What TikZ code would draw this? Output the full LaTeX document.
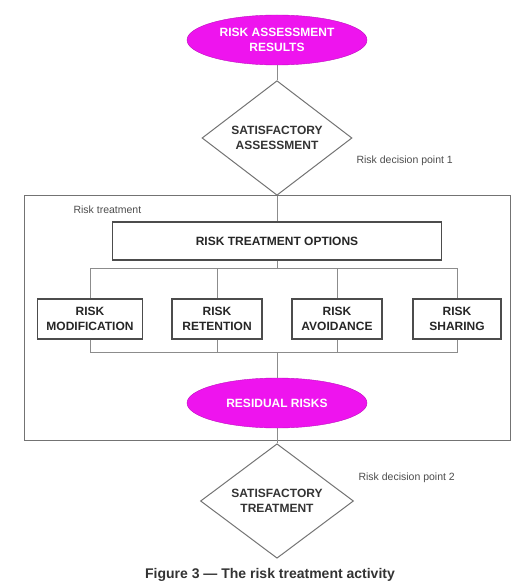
\documentclass[tikz,border=0pt]{standalone}
\usepackage{fontspec}
\setmainfont{Liberation Sans}
\usepackage{xcolor}
\usepackage{tikz}
\usetikzlibrary{positioning}
\usetikzlibrary{shapes.geometric}
\definecolor{riskpink}{RGB}{238,20,238}
\definecolor{riskline}{RGB}{140,140,140}
\newcommand{\boxfont}{\fontsize{12}{15}\selectfont\bfseries}
\newcommand{\notefont}{\fontsize{10.5}{12}\selectfont}
\tikzset{
	flowline/.style={draw=riskline, line width=0.9pt},
	pinkcap/.style={ellipse, fill=riskpink, draw=riskpink!80!black,
			minimum width=180pt, minimum height=50pt, inner sep=0pt,
			align=center, text=white, font=\boxfont},
	decide/.style={diamond, draw=black!55, line width=1pt, inner sep=0pt,
			align=center, text=black!80, font=\boxfont},
	optbox/.style={rectangle, draw=black!70, line width=1.3pt,
			minimum height=40pt, inner sep=2pt,
			align=center, text=black!85, font=\boxfont}
}

\begin{document}
\begin{tikzpicture}[x=1pt, y=-1pt]
		\useasboundingbox (0,0) rectangle (516,588);

		% Assessment results
		\node[pinkcap] (results) at (277,40) {RISK ASSESSMENT\\RESULTS};

		% Decision point 1
		\node[decide,
			minimum width=150pt,
			minimum height=100pt
		] (satassess) at (277,138) {SATISFACTORY\\ASSESSMENT};
		\node[anchor=west, text=black!70, font=\notefont] (point1) at (353,161) {Risk decision point 1};

		% Treatment frame
		\node[draw=black!55,
			line width=1pt,
			minimum width=486pt,
			minimum height=245pt,
			inner sep=0pt
		] (frame) at (267,317.5) {};
		\node[anchor=west, text=black!70, font=\notefont] (frametitle) at (70,210) {Risk treatment};

		% Options
		\node[optbox,
			minimum width=329pt,
			minimum height=38pt
		] (options) at (277,241) {RISK TREATMENT OPTIONS};

		\node[optbox, minimum width=105pt] (modify) at (90,319) {RISK\\MODIFICATION};
		\node[optbox, minimum width=90pt] (retain) at (217,319) {RISK\\RETENTION};
		\node[optbox, minimum width=90pt] (avoid) at (337,319) {RISK\\AVOIDANCE};
		\node[optbox, minimum width=88pt] (share) at (457,319) {RISK\\SHARING};

		% Residual risks
		\node[pinkcap] (residual) at (277,403) {RESIDUAL RISKS};

		% Decision point 2
		\node[decide,
			minimum width=153pt,
			minimum height=93pt
		] (sattreat) at (277,501) {SATISFACTORY\\TREATMENT};
		\node[anchor=west, text=black!70, font=\notefont] (point2) at (355,478) {Risk decision point 2};

		% Caption
		\node[font=\fontsize{14}{16}\selectfont\bfseries, text=black!80] (caption) at (270,575)
		{Figure 3 --- The risk treatment activity};

		% Connectors
		\coordinate (split) at (277,268);
		\coordinate (join) at (277,352);

		\draw[flowline] (results.south) -- (satassess.north);
		\draw[flowline] (satassess.south) -- (options.north);
		\draw[flowline] (options.south) -- (split);
		\foreach \opt in {modify,retain,avoid,share}
		\draw[flowline] (split) -| (\opt.north);
		\foreach \opt in {modify,retain,avoid,share}
		\draw[flowline] (\opt.south) |- (join);
		\draw[flowline] (join) -- (residual.north);
		\draw[flowline] (residual.south) -- (sattreat.north);
	\end{tikzpicture}
\end{document}
